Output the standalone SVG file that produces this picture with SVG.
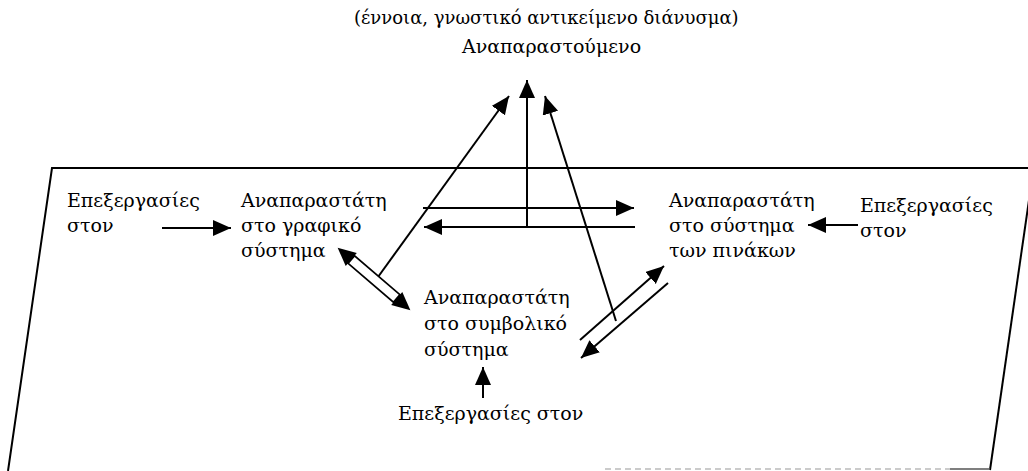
<svg xmlns="http://www.w3.org/2000/svg" width="1028" height="471" viewBox="0 0 1028 471">
<style>
.t{font-family:'DejaVu Serif','Liberation Serif',serif;font-size:19px;fill:#000}
.s{font-size:18px}
.c{stroke:#000;stroke-width:2;fill:none}
.frame{stroke:#000;stroke-width:2;fill:none}
</style>
<defs>
<marker id="ah" markerUnits="userSpaceOnUse" markerWidth="20" markerHeight="18" refX="18" refY="8" orient="auto">
<path d="M0,0 L18,8 L0,16 z" fill="#000"/>
</marker>
</defs>
<rect width="1028" height="471" fill="#fff"/>
<g id="plane">
<polyline class="frame" points="1036,168 52,168 8,471"/>
<line class="frame" x1="1029" y1="200" x2="990" y2="470"/>
<line x1="605" y1="469" x2="950" y2="469" stroke="#bbb" stroke-width="1.5" stroke-dasharray="6,4"/>
<line x1="950" y1="469" x2="990" y2="469" stroke="#555" stroke-width="1.5"/>
</g>
<g id="represented">
<text class="t s" x="354" y="24">(έννοια, γνωστικό αντικείμενο διάνυσμα)</text>
<text class="t" x="462" y="53">Αναπαραστούμενο</text>
</g>
<g id="graphic">
<text class="t" x="241" y="207">Αναπαραστάτη</text>
<text class="t" x="241" y="232">στο γραφικό</text>
<text class="t" x="241" y="257">σύστημα</text>
</g>
<g id="symbolic">
<text class="t" x="424" y="304">Αναπαραστάτη</text>
<text class="t" x="424" y="330">στο συμβολικό</text>
<text class="t" x="424" y="356">σύστημα</text>
</g>
<g id="tables">
<text class="t" x="669" y="207">Αναπαραστάτη</text>
<text class="t" x="669" y="232">στο σύστημα</text>
<text class="t" x="669" y="257">των πινάκων</text>
</g>
<g id="proc-left">
<text class="t" x="67" y="207">Επεξεργασίες</text>
<text class="t" x="67" y="232">στον</text>
</g>
<g id="proc-right">
<text class="t" x="860" y="212">Επεξεργασίες</text>
<text class="t" x="860" y="237">στον</text>
</g>
<g id="proc-bottom">
<text class="t" x="398" y="420">Επεξεργασίες στον</text>
</g>
<g id="connectors">
<line class="c" x1="162" y1="228" x2="231" y2="228" marker-end="url(#ah)"/>
<line class="c" x1="858" y1="225" x2="808" y2="225" marker-end="url(#ah)"/>
<line class="c" x1="483" y1="398" x2="483" y2="367" marker-end="url(#ah)"/>
<line class="c" x1="378" y1="277" x2="509" y2="96" marker-end="url(#ah)"/>
<line class="c" x1="527" y1="227" x2="527" y2="80" marker-end="url(#ah)"/>
<line class="c" x1="423" y1="208" x2="634" y2="208" marker-end="url(#ah)"/>
<line class="c" x1="635" y1="227" x2="424" y2="227" marker-end="url(#ah)"/>
<line class="c" x1="616" y1="321" x2="545" y2="96" marker-end="url(#ah)"/>
<line class="c" x1="580" y1="340" x2="664" y2="266" marker-end="url(#ah)"/>
<line class="c" x1="668" y1="283" x2="581" y2="358" marker-end="url(#ah)"/>
<g transform="translate(374,279) rotate(40.7)">
<rect x="-30" y="-5" width="60" height="10" fill="#fff" stroke="#000" stroke-width="1.8"/>
<path d="M-48,0 L-30,-8.5 L-30,8.5 z" fill="#000"/>
<path d="M48,0 L30,-8.5 L30,8.5 z" fill="#000"/>
</g>
</g>
</svg>
